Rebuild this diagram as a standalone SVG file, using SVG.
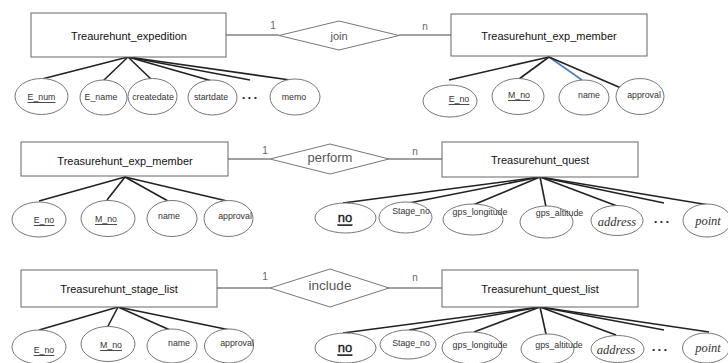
<svg xmlns="http://www.w3.org/2000/svg" width="728" height="363" viewBox="0 0 728 363">
<style>
.ent{fill:#fff;stroke:#666;stroke-width:1}
.rel{fill:#fff;stroke:#777;stroke-width:1}
.att{fill:#fff;stroke:#777;stroke-width:1}
.et{font-family:"Liberation Sans",Arial,sans-serif;font-size:11px;fill:#111;text-anchor:middle;dominant-baseline:central}
.rt{font-family:"Liberation Sans",Arial,sans-serif;fill:#555;text-anchor:middle;dominant-baseline:central}
.at{font-family:"Liberation Sans",Arial,sans-serif;font-size:8.8px;fill:#333;text-anchor:middle;dominant-baseline:central}
.key{text-decoration:underline}
.big{font-size:13px;fill:#111;stroke:#111;stroke-width:0.3}
.mi{font-family:"Liberation Serif","Times New Roman",serif;font-style:italic;font-size:12.5px;fill:#333;text-anchor:middle;dominant-baseline:central}
.card{font-family:"Liberation Sans",Arial,sans-serif;font-size:10px;fill:#666;text-anchor:middle;dominant-baseline:central}
.dots{font-family:"Liberation Sans",Arial,sans-serif;font-size:8px;fill:#222;letter-spacing:3px;text-anchor:middle;dominant-baseline:central}
.rl{stroke:#808080;stroke-width:1.3;fill:none}
.al{stroke:#222;stroke-width:1.6;fill:none}
.bl{stroke:#4a7ebb;stroke-width:1.6;fill:none}
</style>
<g id="connectors">
<line class="rl" x1="226" y1="35" x2="279" y2="35"/>
<line class="rl" x1="399" y1="35" x2="451" y2="35"/>
<line class="rl" x1="228" y1="159" x2="270" y2="159"/>
<line class="rl" x1="389" y1="159" x2="442" y2="159"/>
<line class="rl" x1="217" y1="288" x2="270" y2="288"/>
<line class="rl" x1="389" y1="288" x2="442" y2="288"/>
<line class="al" x1="128" y1="57" x2="42" y2="79"/>
<line class="al" x1="128" y1="57" x2="103" y2="81"/>
<line class="al" x1="128" y1="57" x2="152" y2="80"/>
<line class="al" x1="128" y1="57" x2="212" y2="81"/>
<line class="al" x1="128" y1="57" x2="250" y2="80"/>
<line class="al" x1="128" y1="57" x2="290" y2="80"/>
<line class="al" x1="549" y1="57" x2="449" y2="80"/>
<line class="al" x1="549" y1="57" x2="519" y2="79"/>
<line class="bl" x1="549" y1="57" x2="582" y2="80"/>
<line class="al" x1="549" y1="57" x2="621" y2="88"/>
<line class="al" x1="125" y1="177" x2="39" y2="201"/>
<line class="al" x1="125" y1="177" x2="107" y2="200"/>
<line class="al" x1="125" y1="177" x2="168" y2="201"/>
<line class="al" x1="125" y1="177" x2="227" y2="201"/>
<line class="al" x1="540" y1="177" x2="343" y2="203"/>
<line class="al" x1="540" y1="177" x2="409" y2="203"/>
<line class="al" x1="540" y1="177" x2="473" y2="205"/>
<line class="al" x1="540" y1="177" x2="546" y2="207"/>
<line class="al" x1="540" y1="177" x2="617" y2="206"/>
<line class="al" x1="540" y1="177" x2="664" y2="203"/>
<line class="al" x1="540" y1="177" x2="709" y2="205"/>
<line class="al" x1="118" y1="307" x2="39" y2="330"/>
<line class="al" x1="118" y1="307" x2="107" y2="328"/>
<line class="al" x1="118" y1="307" x2="170" y2="330"/>
<line class="al" x1="118" y1="307" x2="230" y2="330"/>
<line class="al" x1="540" y1="307" x2="343" y2="333"/>
<line class="al" x1="540" y1="307" x2="409" y2="330"/>
<line class="al" x1="540" y1="307" x2="474" y2="332"/>
<line class="al" x1="540" y1="307" x2="546" y2="334"/>
<line class="al" x1="540" y1="307" x2="616" y2="335"/>
<line class="al" x1="540" y1="307" x2="664" y2="330"/>
<line class="al" x1="540" y1="307" x2="709" y2="332"/>
</g>
<g id="labels-cardinality">
<text class="card" x="273" y="25">1</text>
<text class="card" x="425" y="26">n</text>
<text class="card" x="265" y="150">1</text>
<text class="card" x="415" y="151">n</text>
<text class="card" x="265" y="276">1</text>
<text class="card" x="415" y="277">n</text>
</g>
<!-- Row 1 -->
<g id="e-expedition"><rect class="ent" x="31" y="13" width="195" height="44"/><text class="et" x="129" y="36">Treaurehunt_expedition</text></g>
<g id="r-join"><polygon class="rel" points="279,35.5 339,21 399,35.5 339,50"/><text class="rt" x="339" y="36" font-size="11">join</text></g>
<g id="e-member1"><rect class="ent" x="451" y="14" width="196" height="42"/><text class="et" x="549" y="36">Treasurehunt_exp_member</text></g>
<g id="a1-enum"><ellipse class="att" cx="41.5" cy="96.5" rx="26.5" ry="18"/><text class="at key" x="41.5" y="97">E_num</text></g>
<g id="a1-ename"><ellipse class="att" cx="103.5" cy="97.5" rx="23.5" ry="17.5"/><text class="at" x="101" y="97">E_name</text></g>
<g id="a1-createdate"><ellipse class="att" cx="152.5" cy="96.5" rx="24.5" ry="18"/><text class="at" x="153" y="97">createdate</text></g>
<g id="a1-startdate"><ellipse class="att" cx="212.5" cy="97.5" rx="24.5" ry="17.5"/><text class="at" x="211" y="97">startdate</text></g>
<g id="a1-dots"><text class="dots" x="251" y="97">•••</text></g>
<g id="a1-memo"><ellipse class="att" cx="295" cy="97" rx="25" ry="18"/><text class="at" x="294" y="97">memo</text></g>
<g id="a2-eno"><ellipse class="att" cx="450" cy="101" rx="27" ry="16"/><text class="at key" x="459" y="99">E_no</text></g>
<g id="a2-mno"><ellipse class="att" cx="518" cy="96.5" rx="26" ry="18"/><text class="at key" x="519" y="95">M_no</text></g>
<g id="a2-name"><ellipse class="att" cx="584" cy="97.5" rx="25" ry="17.5"/><text class="at" x="589" y="95">name</text></g>
<g id="a2-approval"><ellipse class="att" cx="640" cy="96.5" rx="24" ry="18"/><text class="at" x="644" y="95">approval</text></g>
<!-- Row 2 -->
<g id="e-member2"><rect class="ent" x="21" y="142" width="207" height="34"/><text class="et" x="125" y="161">Treasurehunt_exp_member</text></g>
<g id="r-perform"><polygon class="rel" points="270,159 330,144 389,159 330,174"/><text class="rt" x="330" y="157" font-size="13">perform</text></g>
<g id="e-quest"><rect class="ent" x="442" y="142" width="196" height="35"/><text class="et" x="540" y="160">Treasurehunt_quest</text></g>
<g id="a3-eno"><ellipse class="att" cx="39" cy="219.5" rx="27" ry="17.5"/><text class="at key" x="44" y="220">E_no</text></g>
<g id="a3-mno"><ellipse class="att" cx="108" cy="218.5" rx="27" ry="18"/><text class="at key" x="106" y="219">M_no</text></g>
<g id="a3-name"><ellipse class="att" cx="172" cy="218.5" rx="25" ry="18"/><text class="at" x="169" y="216">name</text></g>
<g id="a3-approval"><ellipse class="att" cx="228.5" cy="218.5" rx="24.5" ry="18"/><text class="at" x="235" y="216">approval</text></g>
<g id="a4-no"><ellipse class="att" cx="345.5" cy="218" rx="30.5" ry="15"/><text class="at key big" x="345" y="217">no</text></g>
<g id="a4-stageno"><ellipse class="att" cx="405.5" cy="217.5" rx="26.5" ry="15.5"/><text class="at" x="411" y="211">Stage_no</text></g>
<g id="a4-gpslong"><ellipse class="att" cx="473" cy="219.5" rx="30" ry="15.5"/><text class="at" x="480" y="212">gps_longitude</text></g>
<g id="a4-gpsalt"><ellipse class="att" cx="546.5" cy="222" rx="26.5" ry="16"/><text class="at" x="559.5" y="213">gps_altitude</text></g>
<g id="a4-address"><ellipse class="att" cx="617" cy="220.5" rx="26" ry="15"/><text class="mi" x="617" y="222">address</text></g>
<g id="a4-dots"><text class="dots" x="663" y="221">•••</text></g>
<g id="a4-point"><ellipse class="att" cx="707" cy="220.5" rx="24" ry="16.5"/><text class="mi" x="708" y="221">point</text></g>
<!-- Row 3 -->
<g id="e-stagelist"><rect class="ent" x="21" y="270" width="196" height="37"/><text class="et" x="119" y="289">Treasurehunt_stage_list</text></g>
<g id="r-include"><polygon class="rel" points="270,288 330,269 389,288 330,307"/><text class="rt" x="330" y="285" font-size="13.5">include</text></g>
<g id="e-questlist"><rect class="ent" x="442" y="270" width="196" height="37"/><text class="et" x="540" y="289">Treasurehunt_quest_list</text></g>
<g id="a5-eno"><ellipse class="att" cx="39" cy="347" rx="27" ry="17"/><text class="at key" x="44" y="350">E_no</text></g>
<g id="a5-mno"><ellipse class="att" cx="108" cy="344" rx="27" ry="17.5"/><text class="at key" x="111" y="345">M_no</text></g>
<g id="a5-name"><ellipse class="att" cx="172" cy="346" rx="25" ry="17"/><text class="at" x="179" y="343">name</text></g>
<g id="a5-approval"><ellipse class="att" cx="229" cy="346" rx="24.5" ry="17"/><text class="at" x="237" y="343">approval</text></g>
<g id="a6-no"><ellipse class="att" cx="345.5" cy="348" rx="30.5" ry="15"/><text class="at key big" x="345" y="347">no</text></g>
<g id="a6-stageno"><ellipse class="att" cx="408" cy="344.5" rx="28" ry="14.5"/><text class="at" x="411" y="343">Stage_no</text></g>
<g id="a6-gpslong"><ellipse class="att" cx="472" cy="348" rx="30" ry="16"/><text class="at" x="480" y="345">gps_longitude</text></g>
<g id="a6-gpsalt"><ellipse class="att" cx="547.5" cy="349" rx="26.5" ry="15"/><text class="at" x="559" y="345">gps_altitude</text></g>
<g id="a6-address"><ellipse class="att" cx="617.5" cy="349" rx="26.5" ry="13.5"/><text class="mi" x="616" y="350">address</text></g>
<g id="a6-dots"><text class="dots" x="661" y="349">•••</text></g>
<g id="a6-point"><ellipse class="att" cx="706" cy="348" rx="23.5" ry="15"/><text class="mi" x="708" y="348">point</text></g>
</svg>
